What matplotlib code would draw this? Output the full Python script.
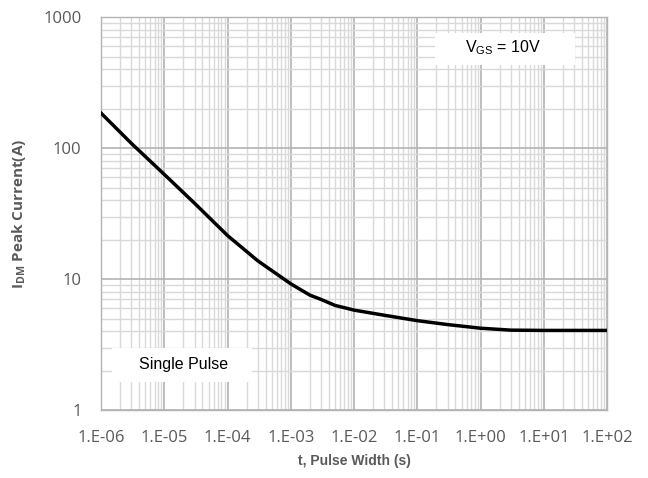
import matplotlib.pyplot as plt
from matplotlib.patches import Rectangle
from matplotlib.ticker import LogLocator, NullFormatter, FixedLocator

plt.rcParams['mathtext.fontset'] = 'custom'
plt.rcParams['mathtext.rm'] = 'Liberation Sans'
plt.rcParams['mathtext.bf'] = 'Open Sans:bold'

# pulse width (s) and peak drain current (A)
t = [1e-6, 3e-6, 1e-5, 3e-5, 1e-4, 3e-4, 1e-3, 2e-3, 3e-3, 5e-3,
     1e-2, 3e-2, 1e-1, 3e-1, 1e0, 3e0, 1e1, 1e2]
idm = [185, 109, 63, 38, 21.5, 13.8, 9.2, 7.55, 7.0, 6.3,
       5.8, 5.3, 4.82, 4.5, 4.22, 4.08, 4.06, 4.06]

xticks = [1e-6, 1e-5, 1e-4, 1e-3, 1e-2, 1e-1, 1e0, 1e1, 1e2]
xticklabels = ['1.E-06', '1.E-05', '1.E-04', '1.E-03', '1.E-02',
               '1.E-01', '1.E+00', '1.E+01', '1.E+02']
yticks = [1, 10, 100, 1000]
yticklabels = ['1', '10', '100', '1000']

fig = plt.figure(figsize=(6.48, 4.78), dpi=100)
ax = fig.add_axes([0.156, 0.142, 0.781, 0.822])

ax.set_xscale('log')
ax.set_yscale('log')
ax.set_xlim(1e-6, 1e2)
ax.set_ylim(1, 1000)

ax.xaxis.set_major_locator(FixedLocator(xticks))
ax.set_xticklabels(xticklabels)
ax.yaxis.set_major_locator(FixedLocator(yticks))
ax.set_yticklabels(yticklabels)
ax.xaxis.set_minor_locator(LogLocator(base=10, subs=range(2, 10), numticks=20))
ax.yaxis.set_minor_locator(LogLocator(base=10, subs=range(2, 10), numticks=20))
ax.xaxis.set_minor_formatter(NullFormatter())
ax.yaxis.set_minor_formatter(NullFormatter())

ax.grid(which='minor', color='#d9d9d9', linewidth=1.0, zorder=0)
ax.grid(which='major', color='#b3b3b3', linewidth=1.2, zorder=0)
ax.set_axisbelow(True)
for s in ax.spines.values():
    s.set_color('#b3b3b3')
    s.set_linewidth(1.0)

ax.tick_params(which='both', length=0)
ax.tick_params(axis='x', pad=14, labelsize=12, labelcolor='#595959')
ax.tick_params(axis='y', pad=14, labelsize=12, labelcolor='#595959')
for lab in ax.get_xticklabels() + ax.get_yticklabels():
    lab.set_family('Open Sans')

ax.plot(t, idm, color='black', linewidth=2.5, zorder=3)

ax.set_xlabel('t, Pulse Width (s)', fontsize=10, fontweight='bold',
              color='#595959', family='Liberation Sans', labelpad=6)
ax.set_ylabel(r'$\mathbf{I_{DM}}$ Peak Current(A)', fontsize=11, fontweight='bold',
              color='#595959', family='Open Sans', labelpad=11)

# white label boxes covering the grid
ax.add_patch(Rectangle((0.660, 0.878), 0.277, 0.081, transform=ax.transAxes,
                       fc='white', ec='none', zorder=2))
ax.add_patch(Rectangle((0.022, 0.071), 0.276, 0.087, transform=ax.transAxes,
                       fc='white', ec='none', zorder=2))
ax.text(0.794, 0.922, r'$\mathregular{V_{GS}}$ = 10V', transform=ax.transAxes,
        ha='center', va='center', fontsize=11.5, family='Liberation Sans', zorder=4)
ax.text(0.162, 0.115, 'Single Pulse', transform=ax.transAxes,
        ha='center', va='center', fontsize=11.5, family='Liberation Sans', zorder=4)

fig.savefig('out.png', dpi=100)
